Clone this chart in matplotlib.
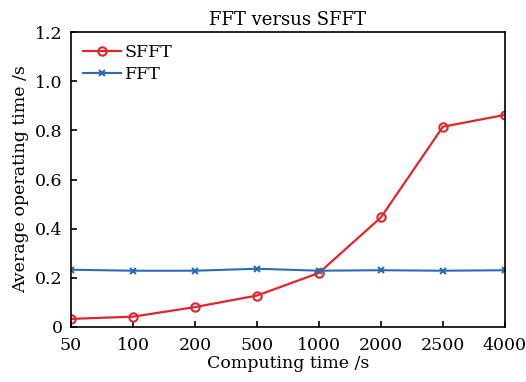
import matplotlib
matplotlib.use("Agg")
import matplotlib.pyplot as plt

categories = ["50", "100", "200", "500", "1000", "2000", "2500", "4000"]
sfft = [0.033, 0.042, 0.081, 0.128, 0.220, 0.446, 0.815, 0.863]
fft = [0.233, 0.229, 0.229, 0.237, 0.229, 0.231, 0.229, 0.231]

plt.rcParams["font.family"] = ["DejaVu Serif"]

fig = plt.figure(figsize=(5.26, 3.82), dpi=100)
ax = fig.add_axes([0.135, 0.144, 0.825, 0.772])
xs = range(len(categories))
ax.plot(xs, sfft, "-o", color="#e0262a", lw=1.6, ms=6, mfc="none", mew=1.5, label="SFFT")
ax.plot(xs, fft, "-x", color="#2b6cb3", lw=1.5, ms=4, mew=1.5, label="FFT")

ax.set_xlim(0, len(categories) - 1)
ax.set_ylim(0, 1.2)
ax.set_xticks(list(xs))
ax.set_xticklabels(categories)
ax.set_yticks([0, 0.2, 0.4, 0.6, 0.8, 1.0, 1.2])
ax.set_yticklabels(["0", "0.2", "0.4", "0.6", "0.8", "1.0", "1.2"])
ax.tick_params(direction="in", labelsize=12.5, length=4, width=1.2, top=False, right=False)
ax.tick_params(axis="x", pad=7)
ax.tick_params(axis="y", pad=6)
for s in ax.spines.values():
  s.set_linewidth(1.2)
ax.set_xlabel("Computing time /s", fontsize=12.5, labelpad=1)
ax.set_ylabel("Average operating time /s", fontsize=12.5, labelpad=4)
ax.set_title("FFT versus SFFT", fontsize=13, pad=5)
ax.legend(loc="upper left", frameon=False, fontsize=12.5, handlelength=2.2, handletextpad=0.2, borderaxespad=0.3, labelspacing=0.3)

fig.savefig("out.png", dpi=100)
